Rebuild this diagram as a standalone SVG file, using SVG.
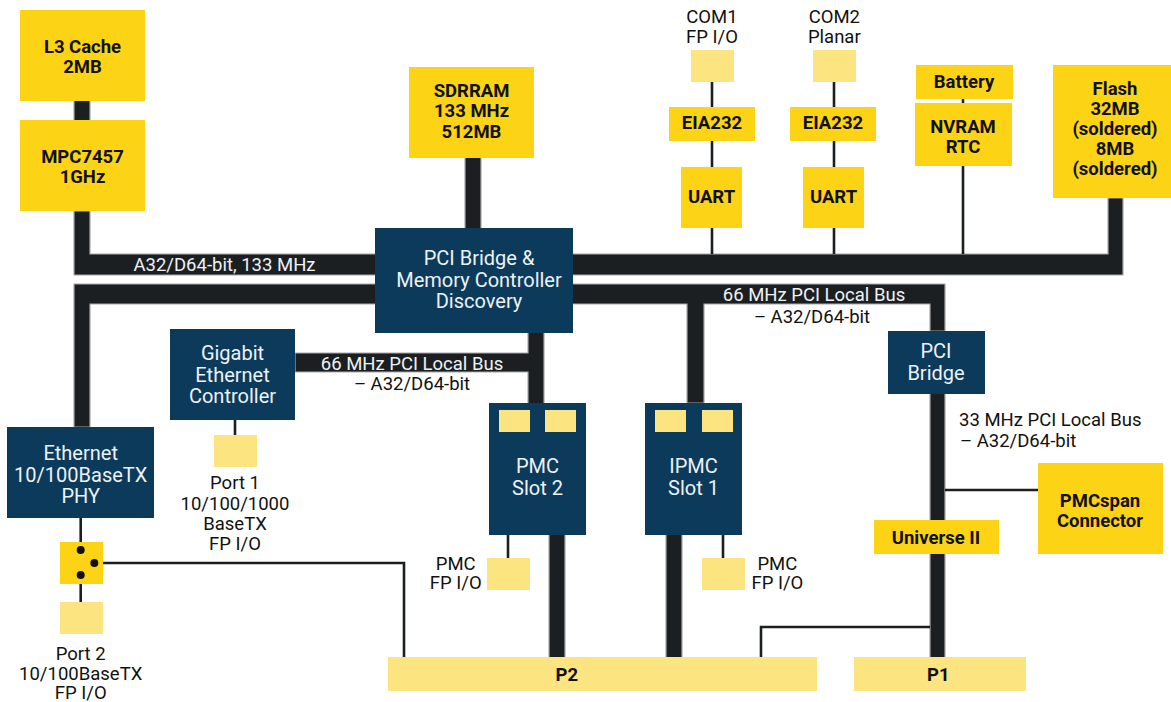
<svg xmlns="http://www.w3.org/2000/svg" width="1171" height="702" viewBox="0 0 1171 702">
<style>
.bus{fill:#1c1f21;stroke:#a8a8a8;stroke-width:1.2}
.wire{fill:none;stroke:#1c1f21;stroke-width:2.6}
.y{fill:#fdd415}
.ly{fill:#fce581}
.n{fill:#0b3a5b}
text{font-family:Roboto,"Liberation Sans",sans-serif;font-size:18.5px;text-anchor:middle;fill:#111}
.b{font-weight:bold}
.w{fill:#eef2f5;font-size:20px}
.wb{fill:#eef2f5}
.l{text-anchor:start}
</style>
<rect width="1171" height="702" fill="#fff"/>
<g id="connectors">
<polygon class="bus" points="74,211 90,211 90,254 1108,254 1108,198 1123,198 1123,275 74,275"/>
<rect class="bus" x="74" y="100" width="16" height="21"/>
<rect class="bus" x="465" y="157" width="16" height="72"/>
<polygon class="bus" points="74,427 74,284 945,284 945,331 930,331 930,304 704,304 704,403 687,403 687,304 90,304 90,427"/>
<polygon class="bus" points="528,332 544,332 544,404 528,404 528,372 295,372 295,353 528,353"/>
<rect class="bus" x="930" y="393" width="15" height="265"/>
<rect class="bus" x="549" y="534" width="16" height="124"/>
<rect class="bus" x="666" y="534" width="16" height="124"/>
<path class="wire" d="M712,82V107M712,141V167M712,228V254"/>
<path class="wire" d="M834,82V107M834,141V167M834,228V254"/>
<path class="wire" d="M963,98V104M963,165V254"/>
<path class="wire" d="M235,420V435"/>
<path class="wire" d="M80.7,518V550M80.7,575V602"/>
<path class="wire" d="M94.3,563H404V657"/>
<path class="wire" d="M508,535V558M723,535V558"/>
<path class="wire" d="M761,657V627H930"/>
<path class="wire" d="M945,490H1038"/>
<text class="wb" x="224.5" y="270.7">A32/D64-bit, 133 MHz</text>
<text class="wb" x="814" y="300.7">66 MHz PCI Local Bus</text>
<text x="812" y="322.7">– A32/D64-bit</text>
<text class="wb" x="412" y="369.5">66 MHz PCI Local Bus</text>
<text x="412" y="390">– A32/D64-bit</text>
<text class="l" x="959" y="426">33 MHz PCI Local Bus</text>
<text class="l" x="960" y="447.3">– A32/D64-bit</text>
</g>
<g id="l3cache"><rect class="y" x="20" y="10" width="125" height="91"/><text class="b" x="82.5" y="53.3">L3 Cache</text><text class="b" x="82.5" y="73.3">2MB</text></g>
<g id="mpc7457"><rect class="y" x="20" y="120" width="125" height="91"/><text class="b" x="82.5" y="162.7">MPC7457</text><text class="b" x="82.5" y="182.7">1GHz</text></g>
<g id="sdrram"><rect class="y" x="409" y="67" width="125" height="91"/><text class="b" x="471.5" y="97">SDRRAM</text><text class="b" x="471.5" y="117.3">133 MHz</text><text class="b" x="471.5" y="137.6">512MB</text></g>
<g id="com1"><text x="712" y="23.3">COM1</text><text x="712" y="43.3">FP I/O</text><rect class="ly" x="691" y="50" width="43" height="32"/></g>
<g id="eia232-1"><rect class="y" x="669" y="107" width="86" height="34"/><text class="b" x="712" y="129.3">EIA232</text></g>
<g id="uart-1"><rect class="y" x="681" y="167" width="61" height="61"/><text class="b" x="711.5" y="203.3">UART</text></g>
<g id="com2"><text x="834.3" y="23.3">COM2</text><text x="834.3" y="43.3">Planar</text><rect class="ly" x="813" y="50" width="43" height="32"/></g>
<g id="eia232-2"><rect class="y" x="790" y="107" width="86" height="34"/><text class="b" x="833" y="129.3">EIA232</text></g>
<g id="uart-2"><rect class="y" x="803" y="167" width="61" height="61"/><text class="b" x="833.5" y="203.3">UART</text></g>
<g id="battery"><rect class="y" x="916" y="65" width="97" height="34"/><text class="b" x="964" y="87.7">Battery</text></g>
<g id="nvram"><rect class="y" x="915" y="103" width="97" height="63"/><text class="b" x="963" y="133.3">NVRAM</text><text class="b" x="963" y="153.3">RTC</text></g>
<g id="flash"><rect class="y" x="1053" y="65" width="124" height="133"/><text class="b" x="1115" y="95.3">Flash</text><text class="b" x="1115" y="115.3">32MB</text><text class="b" x="1115" y="135.3">(soldered)</text><text class="b" x="1115" y="155.3">8MB</text><text class="b" x="1115" y="175.3">(soldered)</text></g>
<g id="pci-bridge-mem"><rect class="n" x="375" y="228" width="198" height="105"/><text class="w" x="479" y="265">PCI Bridge &amp;</text><text class="w" x="479" y="286.5">Memory Controller</text><text class="w" x="479" y="308">Discovery</text></g>
<g id="gigabit"><rect class="n" x="170" y="329" width="125" height="91"/><text class="w" x="232.5" y="360">Gigabit</text><text class="w" x="232.5" y="381.7">Ethernet</text><text class="w" x="232.5" y="403.4">Controller</text></g>
<g id="port1"><rect class="ly" x="214" y="435" width="43" height="32"/><text x="235" y="489.3">Port 1</text><text x="235" y="509.8">10/100/1000</text><text x="235" y="530">BaseTX</text><text x="235" y="550">FP I/O</text></g>
<g id="ethernet-phy"><rect class="n" x="7" y="427" width="147" height="91"/><text class="w" x="80.7" y="460">Ethernet</text><text class="w" x="80.7" y="481.7">10/100BaseTX</text><text class="w" x="80.7" y="503.3">PHY</text></g>
<g id="switch"><rect class="y" x="60" y="542" width="43" height="42"/><circle cx="80.7" cy="550" r="4" fill="#111"/><circle cx="94.3" cy="563" r="4" fill="#111"/><circle cx="80.7" cy="575" r="4" fill="#111"/></g>
<g id="port2"><rect class="ly" x="60" y="602" width="43" height="32"/><text x="80.7" y="659.7">Port 2</text><text x="80.7" y="679.6">10/100BaseTX</text><text x="80.7" y="699.4">FP I/O</text></g>
<g id="pmc-slot2"><rect class="n" x="489" y="403" width="97" height="132"/><rect class="ly" x="499" y="410" width="31" height="22"/><rect class="ly" x="545" y="410" width="31" height="22"/><text class="w" x="537.5" y="473.3">PMC</text><text class="w" x="537.5" y="495">Slot 2</text></g>
<g id="ipmc-slot1"><rect class="n" x="645" y="403" width="97" height="132"/><rect class="ly" x="655" y="410" width="31" height="22"/><rect class="ly" x="702" y="410" width="31" height="22"/><text class="w" x="693.5" y="473.3">IPMC</text><text class="w" x="693.5" y="495">Slot 1</text></g>
<g id="pmc-fp-1"><rect class="ly" x="487" y="558" width="43" height="32"/><text x="455.7" y="570">PMC</text><text x="455.7" y="589.3">FP I/O</text></g>
<g id="pmc-fp-2"><rect class="ly" x="702" y="558" width="43" height="32"/><text x="777.4" y="570">PMC</text><text x="777.4" y="589.3">FP I/O</text></g>
<g id="pci-bridge"><rect class="n" x="888" y="331" width="97" height="63"/><text class="w" x="936" y="358.3">PCI</text><text class="w" x="936" y="380">Bridge</text></g>
<g id="universe"><rect class="y" x="874" y="520" width="125" height="34"/><text class="b" x="936" y="544.3">Universe II</text></g>
<g id="pmcspan"><rect class="y" x="1038" y="463" width="125" height="91"/><text class="b" x="1100" y="506.7">PMCspan</text><text class="b" x="1100" y="526.7">Connector</text></g>
<g id="p2"><rect class="ly" x="388" y="657" width="429" height="34"/><text class="b" x="566.8" y="680.7">P2</text></g>
<g id="p1"><rect class="ly" x="854" y="657" width="172" height="34"/><text class="b" x="938.3" y="680.7">P1</text></g>
</svg>
